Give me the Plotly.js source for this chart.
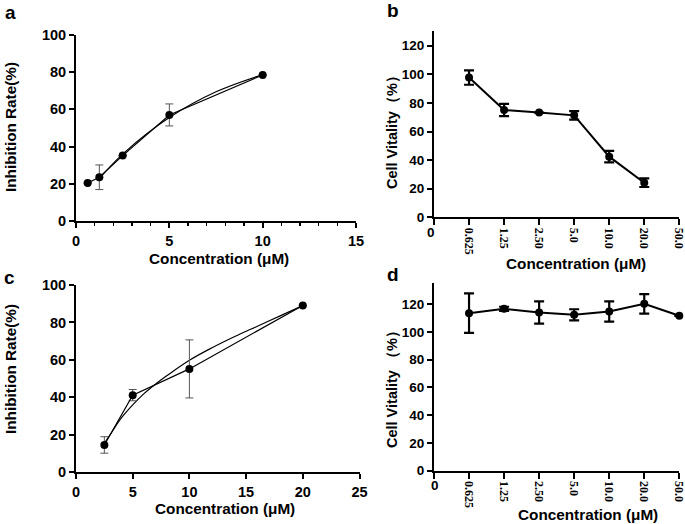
<!DOCTYPE html>
<html>
<head>
<meta charset="utf-8">
<script src="https://cdn.plot.ly/plotly-3.0.1.min.js"></script>
<style>html,body{margin:0;padding:0;background:#fff;}#chart{width:685px;height:524px;}</style>
</head>
<body>
<div id="chart"></div>
<script>
// ---- Panel a data ----
const aConc = [0.625, 1.25, 2.5, 5, 10];
const aInhib = [20.5, 23.6, 35.2, 57, 78.4];
const aErr = [0, 6.6, 0, 5.9, 0];
const aFitConc = [1.25, 2.5, 5, 7.5, 10];
const aFitInhib = [22.9, 36.0, 55.6, 69.4, 78.6];

// ---- Panel c data ----
const cConc = [2.5, 5, 10, 20];
const cInhib = [14.6, 41.2, 55.2, 89.1];
const cErr = [4.4, 3.0, 15.5, 0];
const cFitConc = [2.5, 3, 4, 5, 6, 7, 8, 10, 12, 14, 16, 18, 20];
const cFitInhib = [15.5, 20, 29, 36, 42, 47, 51.5, 59.8, 66.5, 72.5, 78, 83.5, 89];

// ---- Panels b and d (categorical concentrations) ----
const catLabels = ['0', '0.625', '1.25', '2.50', '5.0', '10.0', '20.0', '50.0'];
const bConc = ['0.625', '1.25', '2.50', '5.0', '10.0', '20.0'];
const bVit = [97.7, 75, 73.2, 71.3, 42.4, 24.2];
const bErr = [5, 4.3, 0, 3, 4, 3];
const dConc = ['0.625', '1.25', '2.50', '5.0', '10.0', '20.0', '50.0'];
const dVit = [113.5, 116.6, 114, 112.3, 114.7, 120.2, 111.6];
const dErr = [14.2, 1.5, 8, 4, 7.3, 7, 0];

const xTicksA = [0, 5, 10, 15];
const xTicksC = [0, 5, 10, 15, 20, 25];
const yTicksA = [0, 20, 40, 60, 80, 100];
const yTicksB = [0, 20, 40, 60, 80, 100, 120];

const W = 685, H = 524;
const px = v => v / W;
const py = v => 1 - v / H;

const sans = 'Liberation Sans, Arial, sans-serif';
const serif = 'Liberation Serif, Times New Roman, serif';
const tickFontAC = {family: sans, size: 14.5, color: '#000', weight: 'bold'};
const tickFontBD = {family: sans, size: 13.5, color: '#000', weight: 'bold'};
const catIdx = arr => arr.map(c => catLabels.indexOf(c));

const traces = [
  // a
  {x: aFitConc, y: aFitInhib, xaxis: 'x', yaxis: 'y', mode: 'lines', line: {color: '#000', width: 1.2, shape: 'spline'}, hoverinfo: 'skip'},
  {x: aConc, y: aInhib, xaxis: 'x', yaxis: 'y', mode: 'lines+markers',
   line: {color: '#000', width: 1.2}, marker: {color: '#000', size: 8},
   error_y: {type: 'data', array: aErr, visible: true, color: '#555', thickness: 1, width: 4}},
  // c
  {x: cFitConc, y: cFitInhib, xaxis: 'x3', yaxis: 'y3', mode: 'lines', line: {color: '#000', width: 1.2, shape: 'spline'}, hoverinfo: 'skip'},
  {x: cConc, y: cInhib, xaxis: 'x3', yaxis: 'y3', mode: 'lines+markers',
   line: {color: '#000', width: 1.2}, marker: {color: '#000', size: 8},
   error_y: {type: 'data', array: cErr, visible: true, color: '#555', thickness: 1, width: 4}},
  // b
  {x: catIdx(bConc), y: bVit, xaxis: 'x2', yaxis: 'y2', mode: 'lines+markers', cliponaxis: false,
   line: {color: '#000', width: 2}, marker: {color: '#000', size: 8},
   error_y: {type: 'data', array: bErr, visible: true, color: '#000', thickness: 2.2, width: 5}},
  // d
  {x: catIdx(dConc), y: dVit, xaxis: 'x4', yaxis: 'y4', mode: 'lines+markers', cliponaxis: false,
   line: {color: '#000', width: 2}, marker: {color: '#000', size: 8},
   error_y: {type: 'data', array: dErr, visible: true, color: '#000', thickness: 2.2, width: 5}}
];

const axBase = {
  showgrid: false, zeroline: false, showline: true, linecolor: '#000', linewidth: 2,
  ticks: 'outside', ticklen: 5, tickwidth: 2, tickcolor: '#000', tickfont: tickFontAC,
  ticklabeloverflow: 'allow', fixedrange: true
};

const catAxis = (domain, anchor) => Object.assign({}, axBase, {
  domain: domain, anchor: anchor, range: [0, 7], tickmode: 'array',
  tickvals: catLabels.map((c, i) => i),
  ticktext: catLabels.map((c, i) => i === 0 ? '' : c),
  tickangle: 90, ticklen: 6,
  tickfont: {family: serif, size: 12, color: '#000', weight: 'bold'}
});

const layout = {
  width: W, height: H,
  margin: {l: 0, r: 0, t: 0, b: 0},
  paper_bgcolor: '#fff', plot_bgcolor: '#fff',
  showlegend: false,
  xaxis: Object.assign({}, axBase, {domain: [px(76), px(356)], anchor: 'y', range: [0, 15],
    tickvals: xTicksA, tickmode: 'array',
    minor: {tickvals: [1,2,3,4,6,7,8,9,11,12,13,14], ticks: 'outside', ticklen: 3, tickwidth: 1.5, tickcolor: '#000'}}),
  yaxis: Object.assign({}, axBase, {domain: [py(221.3), py(34.7)], anchor: 'x', range: [0, 100],
    tickmode: 'array', tickvals: yTicksA}),
  xaxis3: Object.assign({}, axBase, {domain: [px(76), px(359.5)], anchor: 'y3', range: [0, 25],
    tickmode: 'array', tickvals: xTicksC}),
  yaxis3: Object.assign({}, axBase, {domain: [py(472.3), py(285)], anchor: 'x3', range: [0, 100],
    tickmode: 'array', tickvals: yTicksA}),
  xaxis2: catAxis([px(434), px(679.3)], 'y2'),
  yaxis2: Object.assign({}, axBase, {domain: [py(217.3), py(31.4)], anchor: 'x2', range: [0, 130],
    tickmode: 'array', tickvals: yTicksB, tickfont: tickFontBD}),
  xaxis4: catAxis([px(434), px(679.3)], 'y4'),
  yaxis4: Object.assign({}, axBase, {domain: [py(470.7), py(283.3)], anchor: 'x4', range: [0, 135],
    tickmode: 'array', tickvals: yTicksB, tickfont: tickFontBD}),
  annotations: []
};

function ann(text, x, y, size, angle, family) {
  layout.annotations.push({
    text: text, xref: 'paper', yref: 'paper', x: px(x), y: py(y),
    xanchor: 'center', yanchor: 'middle', showarrow: false, textangle: angle || 0,
    font: {family: family || sans, size: size, color: '#000', weight: 'bold'}
  });
}

// panel letters
ann('a', 10, 12, 19);
ann('b', 393, 11, 19);
ann('c', 9, 277, 19);
ann('d', 393, 274, 19);
// x titles
ann('Concentration (μM)', 219, 258, 15.3);
ann('Concentration (μM)', 576, 263, 15.3);
ann('Concentration (μM)', 225, 508, 15.3);
ann('Concentration (μM)', 588, 514, 15.3);
// y titles
ann('Inhibition Rate(%)', 10, 127, 15.3, -90);
ann('Inhibition Rate(%)', 10, 369, 15.3, -90);
ann('Cell Vitality（%）', 392, 128, 14.5, -90);
ann('Cell Vitality （%）', 392, 385, 14.5, -90);
// "0" category labels for b and d
ann(catLabels[0], 430.5, 233, 13.5);
ann(catLabels[0], 434.5, 485, 13.5);

Plotly.newPlot('chart', traces, layout, {staticPlot: true, displayModeBar: false});
</script>
</body>
</html>
